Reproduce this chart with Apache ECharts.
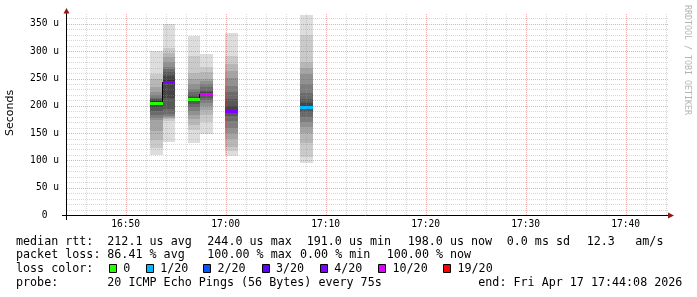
<!DOCTYPE html>
<html><head><meta charset="utf-8">
<script src="https://cdn.jsdelivr.net/npm/echarts@6/dist/echarts.min.js"></script>
<style>html,body{margin:0;padding:0;background:#fff}#c{width:697px;height:297px}</style>
</head><body><div id="c"></div>
<script>
// ---- data ----
const windowStart = '16:44:08';
const windowEnd = '17:44:08';
const stepSeconds = 75;
const intervalStarts = ['16:52:26', '16:53:41', '16:56:11', '16:57:26', '16:59:56', '17:07:26'];
const medianRtt = [206, 244, 212, 221, 191, 198];
const lossPerInterval = [0, 4, 0, 10, 4, 1];
const pingsA = [109, 122, 137, 153, 174, 178, 183, 190, 197, 204, 208, 210, 212, 215, 220, 226, 234, 250, 258, 300];
const pingsB = [133, 172, 176, 178, 180, 182, 185, 195, 215, 240, 248, 255, 262, 268, 272, 280, 290, 296, 305, 349];
const pingsC = [131, 156, 165, 175, 183, 190, 198, 204, 208, 211, 213, 216, 220, 225, 231, 240, 250, 261, 292, 328];
const pingsD = [148, 171, 183, 192, 200, 206, 210, 214, 218, 220, 222, 225, 228, 234, 240, 245, 250, 262, 272, 295];
const pingsE = [108, 118, 125, 140, 150, 160, 172, 182, 188, 190, 193, 200, 212, 225, 236, 251, 264, 276, 291, 333];
const pingsF = [95, 107, 131, 150, 162, 170, 180, 188, 194, 197, 199, 205, 213, 223, 240, 259, 270, 281, 330, 366];
const pingSets = [pingsA, pingsB, pingsC, pingsD, pingsE, pingsF];
const yTickValues = [0, 50, 100, 150, 200, 250, 300, 350];
const xTickLabels = ['16:50', '17:00', '17:10', '17:20', '17:30', '17:40'];
const lossThresholds = [0, 1, 2, 3, 4, 10, 19];
const lossColorLabels = ['0', '1/20', '2/20', '3/20', '4/20', '10/20', '19/20'];
const lossColors = ['#26ff00', '#00b8ff', '#0059ff', '#5e00ff', '#7e00ff', '#dd00ff', '#ff0000'];
const rowMedian = ['median rtt:', '212.1 us avg', '244.0 us max', '191.0 us min', '198.0 us now', '0.0 ms sd', '12.3', 'am/s'];
const rowLoss = ['packet loss:', '86.41 % avg', '100.00 % max', '0.00 % min', '100.00 % now'];
const rowProbe = ['probe:', '20 ICMP Echo Pings (56 Bytes) every 75s', 'end: Fri Apr 17 17:44:08 2026'];
const lossColorTitle = 'loss color:';
const watermark = 'RRDTOOL / TOBI OETIKER';
const yAxisTitle = 'Seconds';

// ---- helpers ----
function sec(s) { const p = s.split(':').map(Number); return p[0] * 3600 + p[1] * 60 + (p[2] || 0); }
function hhmm(v) { const h = Math.floor(v / 3600), m = Math.floor((v % 3600) / 60); return String(h).padStart(2, '0') + ':' + String(m).padStart(2, '0'); }
function lossColor(n) { let c = lossColors[0]; lossThresholds.forEach((t, i) => { if (n >= t) c = lossColors[i]; }); return c; }

const tMin = sec(windowStart), tMax = sec(windowEnd);
const Y_MAX = 370;

// smoke layers
const smokeData = [];
pingSets.forEach((p, b) => {
  const t0 = sec(intervalStarts[b]), t1 = t0 + stepSeconds;
  const n = p.length, half = n / 2;
  for (let i = 0; i < half; i++) {
    const g = Math.floor(190 / half * (half - (i + 1))) + 50;
    smokeData.push([t0, t1, p[i], p[n - 1 - i], g]);
  }
});
const medianData = medianRtt.map((m, b) => { const t0 = sec(intervalStarts[b]); return [t0, t0 + stepSeconds, m, b]; });
const connectData = [];
for (let b = 1; b < medianRtt.length; b++) {
  const t = sec(intervalStarts[b]);
  if (sec(intervalStarts[b - 1]) + stepSeconds === t) connectData.push([t, medianRtt[b - 1], medianRtt[b]]);
}
// grid lines
const gridData = [];
for (let v = 10; v < Y_MAX; v += 10) gridData.push([0, v, v % 50 === 0 ? 1 : 0]);
for (let t = Math.ceil(tMin / 120) * 120; t < tMax; t += 120) gridData.push([1, t, t % 600 === 0 ? 1 : 0]);

const chart = echarts.init(document.getElementById('c'), null, { renderer: 'canvas' });
const mono = 'DejaVu Sans Mono';
const LF = 11.7;

const graphics = [];
// axes lines and arrows
graphics.push({ type: 'line', shape: { x1: 62, y1: 215.5, x2: 669, y2: 215.5 }, style: { stroke: '#000', lineWidth: 1 }, z: 50 });
graphics.push({ type: 'line', shape: { x1: 66.5, y1: 12, x2: 66.5, y2: 220 }, style: { stroke: '#000', lineWidth: 1 }, z: 50 });
graphics.push({ type: 'polygon', shape: { points: [[668, 212.5], [674, 215.5], [668, 218.5]] }, style: { fill: '#901818' }, z: 51 });
graphics.push({ type: 'polygon', shape: { points: [[63.5, 13.5], [66.5, 8], [69.5, 13.5]] }, style: { fill: '#901818' }, z: 51 });
// y title
graphics.push({ type: 'text', x: 10.5, y: 113, rotation: Math.PI / 2, style: { text: yAxisTitle, font: '11px "DejaVu Sans"', fill: '#000', align: 'center', verticalAlign: 'middle' } });
// watermark
graphics.push({ type: 'text', x: 687, y: 60, rotation: -Math.PI / 2, style: { text: watermark, font: '8.3px "DejaVu Sans Mono"', fill: '#b4b4b4', align: 'center', verticalAlign: 'middle' } });
// legend rows
function addRow(items, xs, y) {
  items.forEach((s, i) => graphics.push({ type: 'text', x: xs[i], y: y, style: { text: s, font: LF + 'px "DejaVu Sans Mono"', fill: '#000', align: 'left', verticalAlign: 'middle' } }));
}
addRow(rowMedian, [16, 107.3, 207.3, 306.7, 407.7, 506.7, 586.7, 635.3], 241.6);
addRow(rowLoss, [16, 107.3, 207.3, 300, 386.7], 255);
addRow([lossColorTitle], [16], 269);
const sqX = [109, 146, 203.3, 261.7, 320, 378.3, 443.3];
lossColorLabels.forEach((lab, i) => {
  graphics.push({ type: 'rect', shape: { x: Math.round(sqX[i]) + 0.5, y: 264.5, width: 7, height: 8 }, style: { fill: lossColors[i], stroke: '#000', lineWidth: 1 } });
  graphics.push({ type: 'text', x: sqX[i] + 14.2, y: 269, style: { text: lab, font: LF + 'px "DejaVu Sans Mono"', fill: '#000', align: 'left', verticalAlign: 'middle' } });
});
addRow(rowProbe, [16, 107.3, 478.3], 282.6);

const option = {
  animation: false,
  backgroundColor: '#fff',
  grid: { left: 67, right: 30, top: 13, bottom: 82, containLabel: false },
  xAxis: {
    type: 'value', min: tMin, max: tMax,
    axisLine: { show: false }, axisTick: { show: false }, splitLine: { show: false },
    axisLabel: {
      customValues: xTickLabels.map(sec), formatter: v => hhmm(v), margin: 4,
      fontFamily: mono, fontSize: 9.6, color: '#000', showMinLabel: true, showMaxLabel: true
    }
  },
  yAxis: {
    type: 'value', min: 0, max: Y_MAX, interval: 50,
    axisLine: { show: false }, axisTick: { show: false }, splitLine: { show: false },
    axisLabel: {
      customValues: yTickValues, formatter: v => (v % 50 !== 0 ? '' : (v === 0 ? '0  ' : v + ' u')), margin: 8,
      fontFamily: mono, fontSize: 9.6, color: '#000'
    }
  },
  series: [
    {
      type: 'custom', z: 1, data: smokeData, silent: true,
      renderItem(params, api) {
        const a = api.coord([api.value(0), api.value(3)]), b = api.coord([api.value(1), api.value(2)]);
        const x0 = Math.round(a[0]), x1 = Math.round(b[0]), y0 = Math.round(a[1]), y1 = Math.round(b[1]);
        const g = api.value(4);
        return { type: 'rect', shape: { x: x0, y: y0, width: x1 - x0, height: y1 - y0 }, style: { fill: 'rgb(' + g + ',' + g + ',' + g + ')' } };
      }
    },
    {
      type: 'custom', z: 2, data: gridData, silent: true,
      renderItem(params, api) {
        const kind = api.value(0), pos = api.value(1), major = api.value(2);
        const stroke = major ? 'rgba(215,60,60,0.42)' : 'rgba(150,150,150,0.38)';
        let shape;
        if (kind === 0) {
          const a = api.coord([tMin, pos]), b = api.coord([tMax, pos]);
          const y = Math.round(a[1]) + 0.5;
          shape = { x1: a[0], y1: y, x2: b[0] + 1, y2: y };
        } else {
          const a = api.coord([pos, 0]), b = api.coord([pos, Y_MAX]);
          const x = Math.round(a[0]) + 0.5;
          shape = { x1: x, y1: a[1], x2: x, y2: b[1] };
        }
        return { type: 'line', shape, style: { stroke, lineWidth: 1, lineDash: [1, 1] } };
      }
    },
    {
      type: 'custom', z: 3, data: connectData, silent: true,
      renderItem(params, api) {
        const a = api.coord([api.value(0), api.value(1)]), b = api.coord([api.value(0), api.value(2)]);
        const x = Math.round(a[0]) - 0.5;
        return { type: 'line', shape: { x1: x, y1: Math.round(a[1]), x2: x, y2: Math.round(b[1]) }, style: { stroke: '#000', lineWidth: 1 } };
      }
    },
    {
      type: 'custom', z: 4, data: medianData, silent: true,
      renderItem(params, api) {
        const a = api.coord([api.value(0), api.value(2)]), b = api.coord([api.value(1), api.value(2)]);
        const x0 = Math.round(a[0]), x1 = Math.round(b[0]), y = Math.round(a[1]);
        const idx = api.value(3);
        return { type: 'rect', shape: { x: x0, y: y - 1, width: x1 - x0, height: 3 }, style: { fill: lossColor(lossPerInterval[idx]) } };
      }
    }
  ],
  graphic: graphics
};
chart.setOption(option);
</script>
</body></html>
